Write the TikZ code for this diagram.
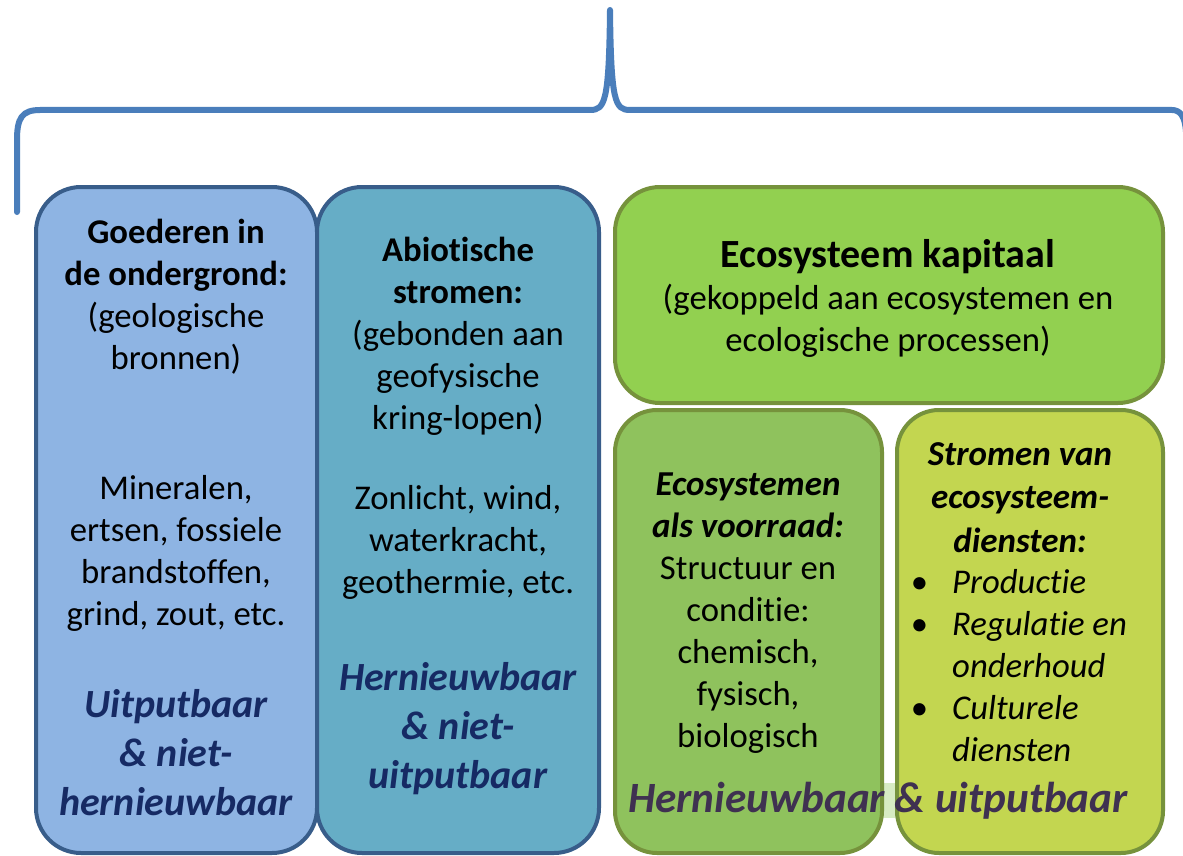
\documentclass[tikz,border=0pt]{standalone}
\usepackage{fontspec}
\setmainfont[RawFeature={-liga;-clig;-calt;-dlig}]{Carlito}
\definecolor{fillA}{RGB}{142,180,227}
\definecolor{fillB}{RGB}{102,173,198}
\definecolor{fillC}{RGB}{146,208,80}
\definecolor{fillD}{RGB}{143,194,93}
\definecolor{fillE}{RGB}{195,214,80}
\definecolor{bordblue}{RGB}{56,93,138}
\definecolor{bordgreen}{RGB}{118,146,60}
\definecolor{navy}{RGB}{22,42,100}
\definecolor{purp}{RGB}{63,49,81}
\definecolor{bracecol}{RGB}{74,126,187}
\definecolor{patchgreen}{RGB}{215,235,195}
\begin{document}
\begin{tikzpicture}[x=1pt,y=-1pt,
  panel/.style={rectangle, line width=4pt, inner sep=0pt, outer sep=0pt},
  bluepanel/.style={panel, draw=bordblue, rounded corners=45pt},
  greenpanel/.style={panel, draw=bordgreen, rounded corners=42pt},
  body/.style={inner sep=0pt, align=center, anchor=base, font=\fontsize{34.7}{42}\selectfont},
  headbi/.style={body, font=\fontsize{35}{42}\selectfont\bfseries\itshape},
  verdict/.style={inner sep=0pt, align=center, anchor=base, text=navy, font=\fontsize{40}{49}\selectfont\bfseries\itshape},
  bracestyle/.style={draw=bracecol, line width=6pt, line cap=round, line join=round}
]
\useasboundingbox (0,0) rectangle (1183,856);

% brace
\begin{scope}
\clip (0,0) rectangle (1183,856);
\draw[bracestyle] (17,212) -- (17,140) .. controls (17,118) and (22,110) .. (40,110)
  -- (590,110) .. controls (605,110) and (609,102) .. (610,10)
  .. controls (611,102) and (615,110) .. (630,110) -- (1172,110)
  .. controls (1180,110) and (1185,116) .. (1186,132);
\end{scope}

% panels
\node[bluepanel, fill=fillA, minimum width=281pt, minimum height=666pt] (b1) at (176.5,520) {};
\node[bluepanel, fill=fillB, minimum width=282pt, minimum height=666pt] (b2) at (458,520) {};
\node[greenpanel, fill=fillC, rounded corners=45pt, minimum width=548pt, minimum height=216pt] (b3) at (889,295) {};
\fill[patchgreen] (874,783) rectangle (904,818);
\node[greenpanel, fill=fillD, minimum width=267pt, minimum height=443pt] (b4) at (748.5,631.5) {};
\node[greenpanel, fill=fillE, minimum width=266pt, minimum height=443pt] (b5) at (1030,631.5) {};

% box 1 (node base = baseline of last line)
\node[body] (t1a) at (176,369) {\bfseries Goederen in\\\bfseries de ondergrond:\\(geologische\\bronnen)};
\node[body] (t1b) at (176,625) {Mineralen,\\ertsen, fossiele\\brandstoffen,\\grind, zout, etc.};
\node[verdict] (t1c) at (176,815) {Uitputbaar\\\& niet-\\hernieuwbaar};

% box 2
\node[body] (t2a) at (458,429) {\bfseries Abiotische\\\bfseries stromen:\\(gebonden aan\\geofysische\\kring-lopen)};
\node[body] (t2b) at (458,593) {Zonlicht, wind,\\waterkracht,\\geothermie, etc.};
\node[verdict] (t2c) at (458,788) {Hernieuwbaar\\\& niet-\\uitputbaar};

% box 3
\node[body, font=\fontsize{40}{43}\selectfont\bfseries] (t3a) at (888,267) {Ecosysteem kapitaal};
\node[body] (t3b) at (888,351) {(gekoppeld aan ecosystemen en\\ecologische processen)};

% box 4
\node[headbi] (t4a) at (748,537) {Ecosystemen\\als voorraad:};
\node[body] (t4b) at (748,747) {Structuur en\\conditie:\\chemisch,\\fysisch,\\biologisch};

% box 5
\node[headbi, font=\fontsize{35}{43.5}\selectfont\bfseries\itshape] (t5a) at (1020,552) {Stromen van\\ecosysteem-\\diensten:};
\node[body, anchor=base west, align=left, font=\fontsize{34.7}{42}\selectfont\itshape] (t5b) at (952,761)
  {\llap{\upshape\textbullet\hspace{24pt}}Productie\\\llap{\upshape\textbullet\hspace{24pt}}Regulatie en\\onderhoud\\\llap{\upshape\textbullet\hspace{24pt}}Culturele\\diensten};

% bottom label
\node[inner sep=0pt, anchor=base, text=purp, font=\fontsize{43.2}{50}\selectfont\bfseries\itshape] (t6) at (878,812) {Hernieuwbaar \& uitputbaar};
\end{tikzpicture}
\end{document}
